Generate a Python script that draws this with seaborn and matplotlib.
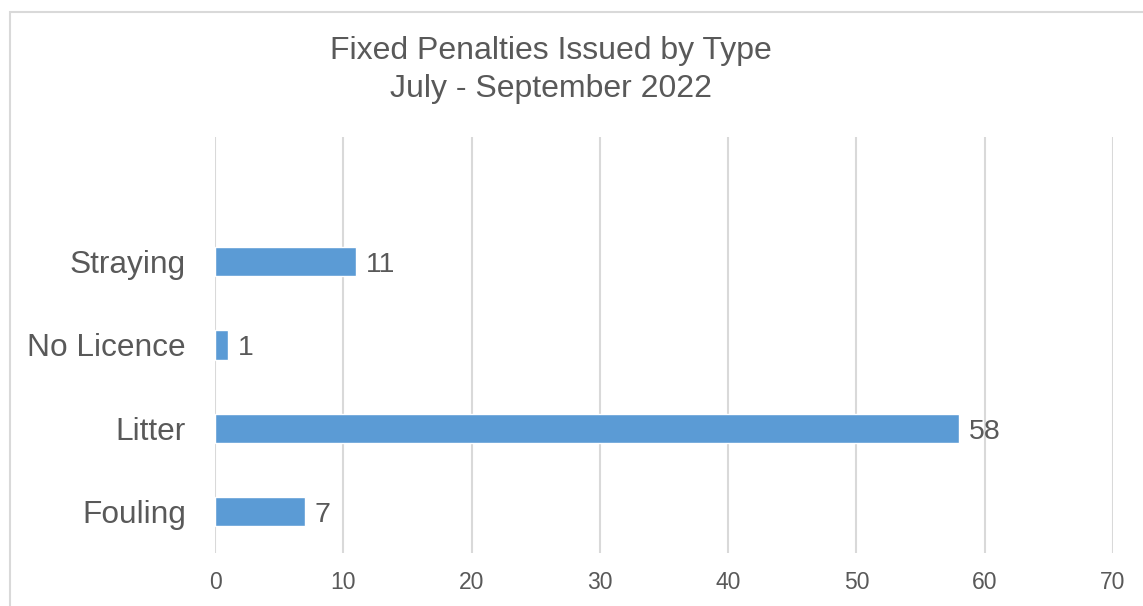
import matplotlib
matplotlib.use("Agg")
import matplotlib.pyplot as plt
import seaborn as sns
import pandas as pd
from matplotlib.patches import Rectangle

categories = ["Straying", "No Licence", "Litter", "Fouling"]
values = [11, 1, 58, 7]
x_ticks = [0, 10, 20, 30, 40, 50, 60, 70]
title_lines = ["Fixed Penalties Issued by Type", "July - September 2022"]

sns.set_theme(style="white")
plt.rcParams["font.family"] = ["Liberation Sans", "DejaVu Sans"]

TEXT = "#595959"
GRID = "#D9D9D9"
BAR = "#5B9BD5"

fig = plt.figure(figsize=(11.43, 6.06), dpi=100)
fig.patch.set_facecolor("white")
ax = fig.add_axes([215/1143, 1-553/606, (1113-215)/1143, (553-137)/606])

df = pd.DataFrame({"category": categories, "value": values})
sns.barplot(data=df, y="category", x="value", orient="h", color=BAR,
            saturation=1, width=0.35, ax=ax, order=categories)

ax.set_xlim(0, 70)
ax.set_ylim(3.5, -1.5)
ax.set_xticks(x_ticks)
ax.set_xticklabels([str(t) for t in x_ticks], fontsize=16.5, color=TEXT)
ax.tick_params(axis="x", length=0, pad=13)
ax.tick_params(axis="y", length=0, pad=21, labelsize=22.8, labelcolor=TEXT)
ax.set_xlabel("")
ax.set_ylabel("")
for s in ax.spines.values():
    s.set_visible(False)
ax.grid(axis="x", color=GRID, linewidth=1.5)
ax.set_axisbelow(True)

for c in ax.containers:
    texts = ax.bar_label(c, labels=[str(v) for v in values], padding=7,
                         fontsize=20.5, color=TEXT)
    for t in texts:
        t.xyann = (7, -2.5)

fig.text(551/1143, 1-51/606, title_lines[0], ha="center", va="center",
         fontsize=23, color=TEXT)
fig.text(551/1143, 1-89/606, title_lines[1], ha="center", va="center",
         fontsize=23, color=TEXT)

fig.patches.append(Rectangle((10/1143, -0.1), 1.2, 1-12/606+0.1,
                             transform=fig.transFigure, fill=False,
                             edgecolor="#D9D9D9", linewidth=1.5))

fig.savefig("out.png", dpi=100)
